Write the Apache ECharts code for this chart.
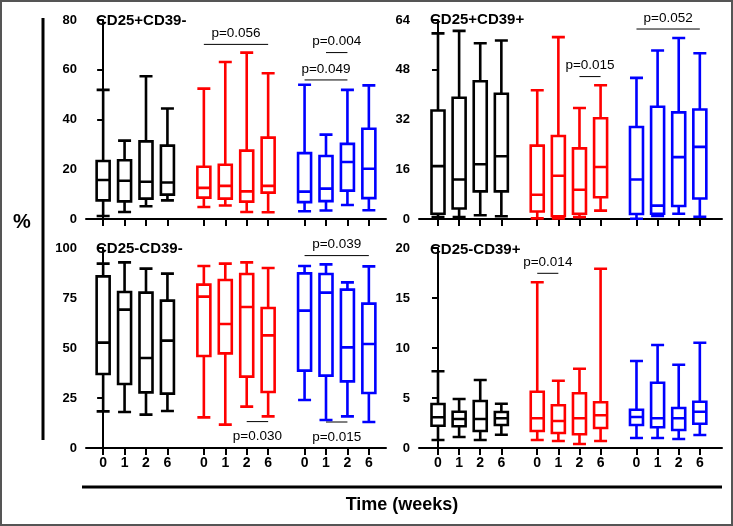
<!DOCTYPE html>
<html>
<head>
<meta charset="utf-8">
<script src="https://cdn.jsdelivr.net/npm/echarts@6/dist/echarts.min.js"></script>
<style>
html,body{margin:0;padding:0;background:#fff;}
#chart{width:733px;height:526px;}
</style>
</head>
<body>
<div id="chart"></div>
<script>
// ---- data ----
const weeks = ['0', '1', '2', '6'];
const panelTitles = ['CD25+CD39-', 'CD25+CD39+', 'CD25-CD39-', 'CD25-CD39+'];
const yMax = [80, 64, 100, 20];
const yStep = [20, 16, 25, 5];

// each row: [min, Q1, median, Q3, max] for weeks 0, 1, 2, 6
const cd25pCd39n_black = [[1.2, 7.5, 15.7, 23.3, 51.9], [2.8, 7.1, 15.4, 23.6, 31.5], [5.1, 8.2, 15.0, 31.2, 57.4], [7.5, 9.8, 14.7, 29.5, 44.4]];
const cd25pCd39n_red   = [[4.8, 8.6, 12.5, 21.0, 52.4], [5.4, 8.2, 13.3, 21.8, 63.1], [2.8, 7.0, 11.1, 27.5, 66.9], [2.7, 10.6, 13.3, 32.7, 58.6]];
const cd25pCd39n_blue  = [[3.1, 6.8, 11.0, 26.5, 54.0], [3.4, 7.2, 12.2, 25.3, 33.9], [5.6, 11.4, 22.9, 30.2, 51.9], [3.5, 8.4, 20.2, 36.3, 53.7]];

const cd25pCd39p_black = [[0.6, 1.7, 17.0, 34.9, 59.7], [0.6, 3.4, 12.7, 39.0, 60.5], [1.2, 8.9, 17.6, 44.3, 56.5], [0.9, 8.9, 20.2, 40.3, 57.4]];
const cd25pCd39p_red   = [[0.2, 2.4, 7.8, 23.6, 41.4], [0.2, 0.9, 13.9, 26.7, 58.5], [0.6, 1.7, 9.4, 22.7, 35.7], [2.7, 7.0, 16.7, 32.4, 43.0]];
const cd25pCd39p_blue  = [[0.1, 1.6, 12.7, 29.6, 45.4], [1.0, 1.7, 4.3, 36.1, 54.2], [1.7, 4.2, 19.9, 34.3, 58.2], [0.7, 6.6, 23.2, 35.2, 53.3]];

const cd25nCd39n_black = [[18.3, 37.0, 52.7, 85.8, 92.2], [18.0, 32.0, 69.2, 78.0, 92.8], [16.7, 27.8, 45.0, 77.7, 89.7], [18.5, 27.2, 53.7, 73.7, 87.2]];
const cd25nCd39n_red   = [[15.3, 46.0, 75.7, 81.7, 91.0], [11.7, 47.3, 62.0, 84.0, 92.2], [20.7, 35.7, 70.5, 87.0, 92.8], [15.8, 28.0, 56.3, 70.0, 90.0]];
const cd25nCd39n_blue  = [[24.0, 38.7, 68.7, 87.3, 91.0], [14.0, 36.2, 77.7, 87.0, 91.8], [15.8, 33.3, 50.3, 79.2, 82.8], [13.0, 27.5, 52.0, 72.2, 90.8]];

const cd25nCd39p_black = [[0.8, 2.23, 3.07, 4.4, 7.67], [1.1, 2.17, 2.9, 3.63, 4.9], [0.8, 1.7, 2.9, 4.7, 6.8], [1.33, 2.3, 2.97, 3.6, 4.43]];
const cd25nCd39p_red   = [[0.8, 1.7, 2.97, 5.63, 16.57], [0.7, 1.5, 2.7, 4.27, 6.73], [0.4, 1.37, 2.97, 5.47, 7.93], [0.7, 2.0, 3.27, 4.57, 17.93]];
const cd25nCd39p_blue  = [[1.0, 2.3, 3.1, 3.83, 8.7], [1.0, 2.07, 2.97, 6.53, 10.3], [0.9, 1.8, 2.97, 4.0, 8.33], [1.3, 2.43, 3.63, 4.63, 10.53]];

// p-value brackets: [fromGroup, fromWeekIdx, toGroup, toWeekIdx, level, text, side]
const pvals_cd25pCd39n = [[1, 0, 1, 3, 70.2, 'p=0.056', 'above'], [2, 0, 2, 2, 55.9, 'p=0.049', 'above'], [2, 1, 2, 2, 66.9, 'p=0.004', 'above']];
const pvals_cd25pCd39p = [[1, 2, 1, 3, 45.8, 'p=0.015', 'above'], [2, 0, 2, 3, 61.1, 'p=0.052', 'above']];
const pvals_cd25nCd39n = [[2, 0, 2, 3, 96.2, 'p=0.039', 'above'], [1, 2, 1, 3, 13.2, 'p=0.030', 'below'], [2, 1, 2, 2, 13.0, 'p=0.015', 'below']];
const pvals_cd25nCd39p = [[1, 0, 1, 1, 17.47, 'p=0.014', 'above']];

// ---- assembly ----
const panels = [
  [cd25pCd39n_black, cd25pCd39n_red, cd25pCd39n_blue],
  [cd25pCd39p_black, cd25pCd39p_red, cd25pCd39p_blue],
  [cd25nCd39n_black, cd25nCd39n_red, cd25nCd39n_blue],
  [cd25nCd39p_black, cd25nCd39p_red, cd25nCd39p_blue]
];
const pvals = [pvals_cd25pCd39n, pvals_cd25pCd39p, pvals_cd25nCd39n, pvals_cd25nCd39p];
const groupColors = ['#000000', '#ff0000', '#0000ff'];
const GAP = 4.7;
const xPos = (g, w) => g * GAP + w;
const tickPositions = [];
for (let g = 0; g < 3; g++) for (let w = 0; w < 4; w++) tickPositions.push(xPos(g, w));

const FONT = 'Liberation Sans, Arial, Helvetica, sans-serif';
const grids = [
  {left: 86, top: 20, width: 300, height: 199},
  {left: 419, top: 20, width: 303, height: 199},
  {left: 86, top: 248, width: 300, height: 200},
  {left: 419, top: 248, width: 303, height: 200}
];
const xRanges = [[-0.8, 13.2], [-0.9, 13.45], [-0.8, 13.2], [-0.9, 13.45]];

const xAxes = grids.map((g, i) => ({
  type: 'value', gridIndex: i, min: xRanges[i][0], max: xRanges[i][1],
  splitLine: {show: false},
  axisLine: {show: true, lineStyle: {color: '#000', width: 2}},
  axisTick: {show: true, customValues: tickPositions, length: 7, lineStyle: {color: '#000', width: 2}},
  axisLabel: {
    show: i >= 2, customValues: tickPositions, margin: 8,
    color: '#000', fontWeight: 'bold', fontSize: 14, fontFamily: FONT,
    formatter: v => {
      const g = Math.floor(v / GAP + 1e-6);
      return weeks[Math.round(v - g * GAP)];
    }
  }
}));
const yAxes = grids.map((g, i) => ({
  type: 'value', gridIndex: i, min: 0, max: yMax[i], interval: yStep[i],
  splitLine: {show: false},
  axisLine: {show: true, lineStyle: {color: '#000', width: 2}},
  axisTick: {show: true, length: 6, lineStyle: {color: '#000', width: 2}},
  axisLabel: {color: '#000', fontWeight: 'bold', fontSize: 13, fontFamily: FONT, margin: 9}
}));

const series = [];
panels.forEach((groups, pi) => {
  const data = [];
  groups.forEach((rows, g) => {
    rows.forEach((r, w) => {
      data.push({
        value: [xPos(g, w)].concat(r),
        itemStyle: {color: '#fff', borderColor: groupColors[g], borderWidth: 2.6}
      });
    });
  });
  series.push({
    type: 'boxplot', xAxisIndex: pi, yAxisIndex: pi,
    encode: {x: 0, y: [1, 2, 3, 4, 5]},
    boxWidth: [13, 13], silent: true, data: data
  });
  const pv = pvals[pi];
  series.push({
    type: 'custom', xAxisIndex: pi, yAxisIndex: pi, silent: true,
    data: pv.map(p => [xPos(p[0], p[1]), xPos(p[2], p[3]), p[4]]),
    encode: {x: [0, 1], y: 2},
    renderItem: (params, api) => {
      const p = pv[params.dataIndex];
      const a = api.coord([api.value(0), api.value(2)]);
      const b = api.coord([api.value(1), api.value(2)]);
      const above = p[6] === 'above';
      return {
        type: 'group',
        children: [
          {type: 'line', shape: {x1: a[0], y1: a[1], x2: b[0], y2: b[1]}, style: {stroke: '#000', lineWidth: 1}},
          {type: 'text', x: (a[0] + b[0]) / 2, y: above ? a[1] - 4 : a[1] + 8,
           style: {text: p[5], fill: '#000', font: '13.5px ' + FONT, align: 'center', verticalAlign: above ? 'bottom' : 'top'}}
        ]
      };
    }
  });
});

const titlePos = [[96, 21], [430, 20], [96, 249], [430, 250]];
const graphic = [
  {type: 'rect', shape: {x: 1, y: 1, width: 731, height: 524}, style: {fill: 'none', stroke: '#555', lineWidth: 2}, silent: true},
  {type: 'line', shape: {x1: 43, y1: 18, x2: 43, y2: 440}, style: {stroke: '#000', lineWidth: 3}, silent: true},
  {type: 'line', shape: {x1: 82, y1: 487, x2: 722, y2: 487}, style: {stroke: '#000', lineWidth: 3}, silent: true},
  {type: 'text', x: 22, y: 222, style: {text: '%', fill: '#000', font: 'bold 20px ' + FONT, align: 'center', verticalAlign: 'middle'}, silent: true},
  {type: 'text', x: 402, y: 505, style: {text: 'Time (weeks)', fill: '#000', font: 'bold 18px ' + FONT, align: 'center', verticalAlign: 'middle'}, silent: true}
];
panelTitles.forEach((t, i) => {
  graphic.push({type: 'text', x: titlePos[i][0], y: titlePos[i][1],
    style: {text: t, fill: '#000', font: 'bold 15px ' + FONT, align: 'left', verticalAlign: 'middle'}, silent: true, z: 10});
});

const chart = echarts.init(document.getElementById('chart'));
chart.setOption({
  animation: false,
  backgroundColor: '#fff',
  grid: grids,
  xAxis: xAxes,
  yAxis: yAxes,
  series: series,
  graphic: graphic
});
</script>
</body>
</html>
